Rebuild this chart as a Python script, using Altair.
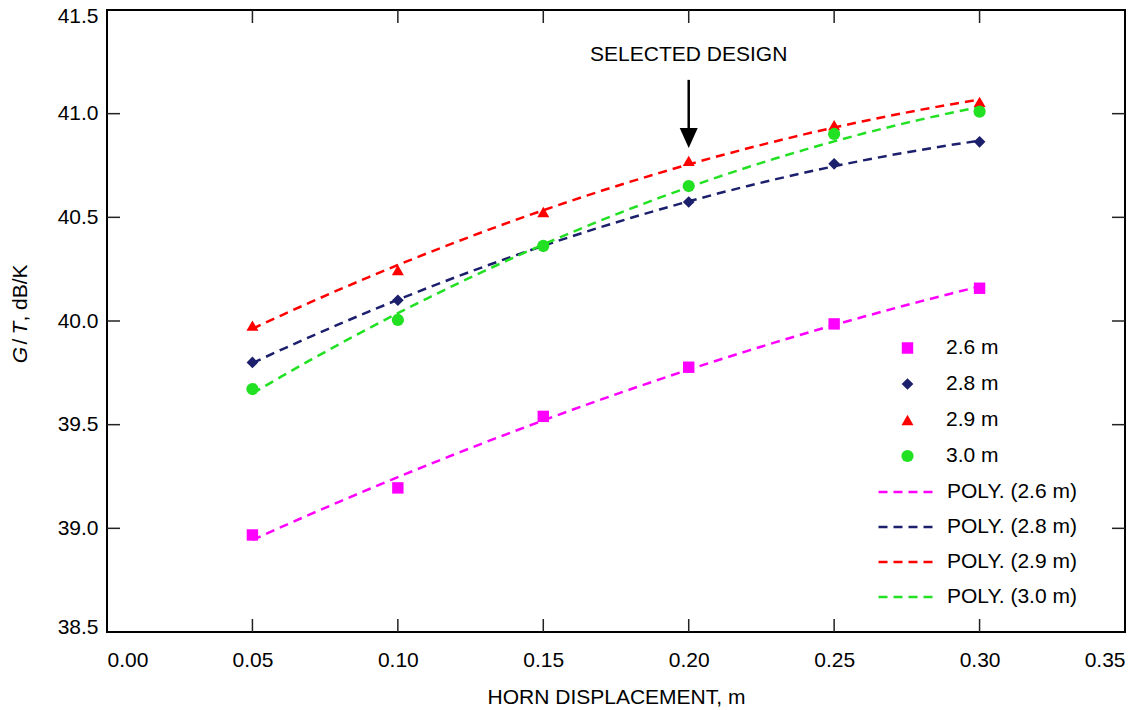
import altair as alt
import pandas as pd

# ---- data ----
x_vals = [0.05, 0.10, 0.15, 0.20, 0.25, 0.30]
series_names = ["2.6 m", "2.8 m", "2.9 m", "3.0 m"]
g26 = [38.968, 39.195, 39.540, 39.777, 39.986, 40.158]
g28 = [39.800, 40.100, 40.360, 40.574, 40.758, 40.864]
g29 = [39.978, 40.246, 40.526, 40.772, 40.945, 41.057]
g30 = [39.672, 40.005, 40.362, 40.651, 40.902, 41.010]
poly_names = ["POLY. (2.6 m)", "POLY. (2.8 m)", "POLY. (2.9 m)", "POLY. (3.0 m)"]
colors = ["#FF00FF", "#1C1F6B", "#FF0000", "#22E022"]
shapes = ["square", "diamond", "triangle-up", "circle"]
marker_sizes = [130, 150, 200, 130]

x_ticks = [0.00, 0.05, 0.10, 0.15, 0.20, 0.25, 0.30, 0.35]
x_inner_ticks = [0.05, 0.10, 0.15, 0.20, 0.25, 0.30]
y_ticks = [38.5, 39.0, 39.5, 40.0, 40.5, 41.0, 41.5]
y_inner_ticks = [39.0, 39.5, 40.0, 40.5, 41.0]

annot_text = ["SELECTED DESIGN"]
annot_x = [0.20]
annot_text_y = [41.283]
arrow_top = [41.163]
arrow_bottom = [40.93]
arrow_head_y = [40.883]

rows = []
for name, vals in zip(series_names, [g26, g28, g29, g30]):
    for xv, yv in zip(x_vals, vals):
        rows.append({"x": xv, "y": yv, "series": name})
df = pd.DataFrame(rows)

FONT = "Liberation Sans"
W, H = 1018, 622

xscale = alt.Scale(domain=[0, 0.35], nice=False, zero=False)
yscale = alt.Scale(domain=[38.5, 41.5], nice=False, zero=False)
xaxis = alt.Axis(values=x_ticks, format=".2f", title="HORN DISPLACEMENT, m",
                 grid=False, domain=False, ticks=False, tickSize=0,
                 labelPadding=17, labelFontSize=21, labelFont=FONT, labelColor="black",
                 titleFont=FONT, titleFontSize=21, titleFontWeight="normal",
                 titleColor="black", titlePadding=16, labelFlush=True)
yaxis = alt.Axis(values=y_ticks, format=".1f", title=None,
                 grid=False, domain=False, ticks=False, tickSize=0,
                 labelPadding=9, labelFontSize=21, labelFont=FONT, labelColor="black",
                 labelFlush=True, labelFlushOffset=5)
X = alt.X("x:Q", scale=xscale, axis=xaxis)
Y = alt.Y("y:Q", scale=yscale, axis=yaxis)

pt_legend = alt.Legend(title=None, orient="none", legendX=790, legendY=328,
                       padding=0, clipHeight=20, rowPadding=15,
                       labelOffset=28,
                       labelFont=FONT, labelFontSize=21, labelColor="black")

points = alt.Chart(df).mark_point(filled=True, opacity=1).encode(
    x=X, y=Y,
    color=alt.Color("series:N", scale=alt.Scale(domain=series_names, range=colors),
                    legend=pt_legend),
    shape=alt.Shape("series:N", scale=alt.Scale(domain=series_names, range=shapes),
                    legend=pt_legend),
    size=alt.Size("series:N", scale=alt.Scale(domain=series_names, range=marker_sizes),
                  legend=pt_legend),
)

lines = alt.Chart(df).transform_regression(
    "x", "y", groupby=["series"], method="poly", order=2, extent=[0.05, 0.30]
).transform_calculate(
    poly="'POLY. (' + datum.series + ')'"
).mark_line(strokeDash=[9, 6], strokeWidth=2.5).encode(
    x=X, y=Y,
    color=alt.Color("poly:N", scale=alt.Scale(domain=poly_names, range=colors),
                    legend=alt.Legend(title=None, orient="none", legendX=770, legendY=472,
                                      padding=0, clipHeight=20, rowPadding=14,
                                      symbolType="stroke", symbolSize=3136,
                                      symbolDash=[9, 6], symbolStrokeWidth=2.5,
                                      labelOffset=11,
                                      labelFont=FONT, labelFontSize=21, labelColor="black")),
    detail="series:N",
)

# inward tick marks
xt = pd.DataFrame({"x": x_inner_ticks})
yt = pd.DataFrame({"y": y_inner_ticks})
tick_bottom = alt.Chart(xt).mark_rule(color="#222222", strokeWidth=1.5).encode(
    x=X, y=alt.value(H), y2=alt.value(H - 13))
tick_top = alt.Chart(xt).mark_rule(color="#222222", strokeWidth=1.5).encode(
    x=X, y=alt.value(0), y2=alt.value(13))
tick_left = alt.Chart(yt).mark_rule(color="#222222", strokeWidth=1.5).encode(
    y=Y, x=alt.value(0), x2=alt.value(13))
tick_right = alt.Chart(yt).mark_rule(color="#222222", strokeWidth=1.5).encode(
    y=Y, x=alt.value(W - 13), x2=alt.value(W))

# annotation
ann = pd.DataFrame({"x": annot_x, "y": annot_text_y, "t": annot_text,
                    "y_top": arrow_top, "y_bot": arrow_bottom, "y_head": arrow_head_y})
ann_text = alt.Chart(ann).mark_text(font=FONT, fontSize=21, color="black",
                                    baseline="middle", align="center").encode(
    x=X, y=Y, text="t:N")
ann_rule = alt.Chart(ann).mark_rule(color="black", strokeWidth=2.5).encode(
    x=X, y=alt.Y("y_top:Q", scale=yscale, axis=yaxis), y2="y_bot:Q")
ann_head = alt.Chart(ann).mark_point(shape="M-0.9,-1L0.9,-1L0,1Z", size=400, filled=True,
                                     color="black", opacity=1).encode(
    x=X, y=alt.Y("y_head:Q", scale=yscale, axis=yaxis))

# y-axis title with italic G and T
yt_pieces = [("G", "italic", 345), ("/", "normal", 331.5), ("T", "italic", 318),
             (", dB/K", "normal", 283)]
ytitle_layers = []
for txt, style, ypos in yt_pieces:
    ytitle_layers.append(
        alt.Chart(pd.DataFrame({"t": [txt]})).mark_text(
            font=FONT, fontSize=21, fontStyle=style, color="black",
            angle=270, align="center", baseline="alphabetic").encode(
            x=alt.value(-80), y=alt.value(ypos), text="t:N"))

chart = alt.layer(
    lines, points, tick_bottom, tick_top, tick_left, tick_right,
    ann_rule, ann_head, ann_text, *ytitle_layers
).resolve_scale(color="independent", shape="independent", size="independent").properties(
    width=W, height=H,
    autosize=alt.AutoSizeParams(type="none"),
    padding={"left": 107, "top": 10, "right": 10, "bottom": 78},
    background="white",
).configure_view(stroke="black", strokeWidth=2)

chart.save("out.html", embed_options={"renderer": "svg", "actions": False})
